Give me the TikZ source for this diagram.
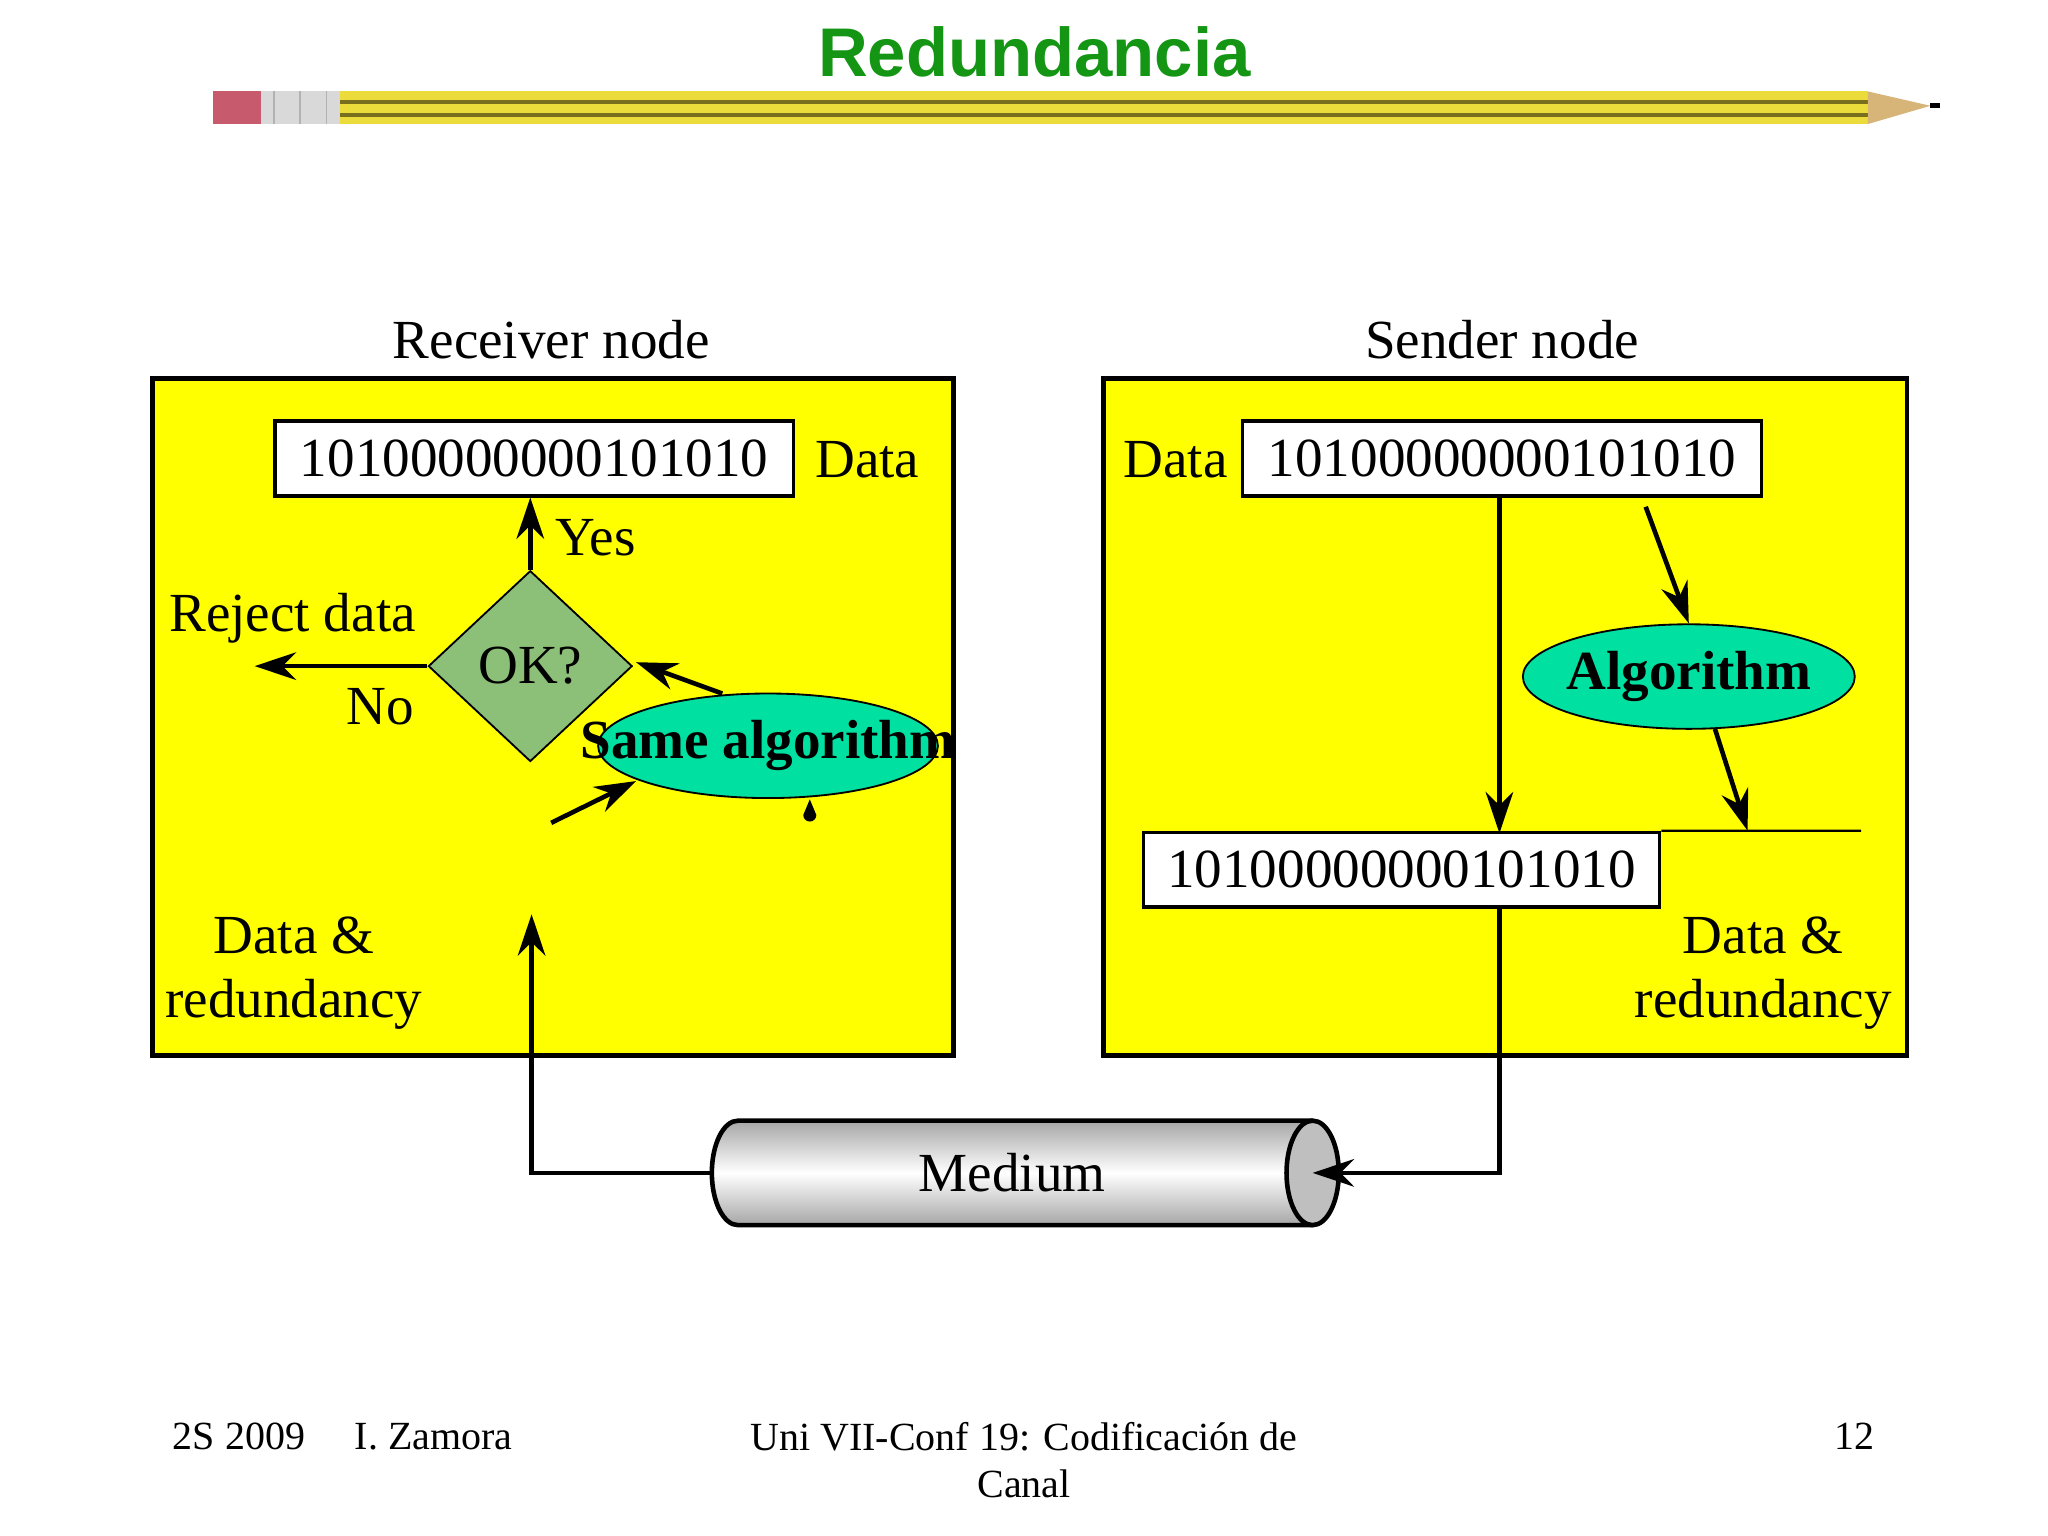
\documentclass[tikz,border=0pt]{standalone}
\usepackage{fontspec}
\setmainfont{Liberation Serif}
\newfontfamily\titlefont{Liberation Sans}
\usetikzlibrary{shapes.geometric,arrows.meta}
\definecolor{ttl}{RGB}{20,150,20}
\definecolor{eraser}{RGB}{200,90,110}
\definecolor{pbody}{RGB}{235,220,60}
\definecolor{pline}{RGB}{120,110,30}
\definecolor{ptip}{RGB}{215,180,120}
\definecolor{okg}{RGB}{140,192,120}
\definecolor{cyanel}{RGB}{0,224,160}
\definecolor{pyel}{RGB}{255,255,0}
\begin{document}
\begin{tikzpicture}[x=0.01cm,y=-0.01cm,
  txt/.style={font=\fontsize{12}{14}\selectfont},
  bits/.style={draw,fill=white,line width=0.8pt,minimum width=3.97cm,minimum height=0.57cm,inner sep=0pt,font=\fontsize{12}{14}\selectfont},
  panel/.style={draw,fill=pyel,line width=1pt},
  ell/.style={ellipse,draw,fill=cyanel,minimum width=2.6cm,minimum height=0.8cm,inner sep=0pt},
  btxt/.style={font=\bfseries\fontsize{12}{14}\selectfont},
  arr/.style={-{Stealth[length=9pt,width=6pt]},line width=1pt},
  foot/.style={font=\fontsize{8.7}{10.2}\selectfont}]
\useasboundingbox (0,0) rectangle (1568,1176);
\fill[white] (0,0) rectangle (1568,1176);
% title
\node[font=\titlefont\bfseries\fontsize{15}{18}\selectfont,text=ttl] (title) at (792,40) {Redundancia};
% pencil
\fill[eraser] (163,70) rectangle (200,95);
\fill[gray!30] (200,70) rectangle (260,95);
\draw[gray!60] (210,70)--(210,95) (230,70)--(230,95) (250,70)--(250,95);
\fill[pbody] (260,70) rectangle (1430,95);
\draw[pline,line width=1pt] (260,78)--(1430,78) (260,88)--(1430,88);
\fill[ptip] (1430,70)--(1478,81)--(1430,95)--cycle;
\fill[black] (1478,79) rectangle (1485,83);
% panels
\node[panel,minimum width=6.13cm,minimum height=5.18cm,anchor=north west] (lp) at (115,288) {};
\node[panel,minimum width=6.15cm,minimum height=5.18cm,anchor=north west] (rp) at (843,288) {};
\node[txt] (rtitle) at (422,260) {Receiver node};
\node[txt] (stitle) at (1150,260) {Sender node};
% left content
\node[bits] (ld) at (409,351) {10100000000101010};
\node[txt] (ldl) at (664,352) {Data};
\node[diamond,draw,fill=okg,minimum width=1.56cm,minimum height=1.46cm,inner sep=0pt,txt,aspect=1.07] (ok) at (406,510) {OK?};
\draw[arr] (ok.north) -- (ld.south -| ok.north);
\node[txt] (yes) at (456,412) {Yes};
\coordinate (rej) at (195,510);
\draw[arr] (ok.west) -- (rej);
\node[txt] (rejt) at (224,473) {Reject data};
\node[txt] (no) at (291,541) {No};
\node[ell] (same) at (588,571) {};
\node[btxt] (samet) at (588,571) {Same algorithm};
\coordinate (s1) at (553,531);
\draw[arr] (s1) -- (487,507);
\coordinate (s2) at (422,630);
\draw[arr] (s2) -- (487,598);
\fill (620,612) -- (615,624) arc(180:0:5) -- cycle;
\node[txt,align=center] (ldr) at (225,745) {Data \&\\redundancy};
% medium
\shade[top color=gray!70,bottom color=gray!70,middle color=white] (565,858) -- (1005,858) -- (1005,938) -- (565,938) arc(90:270:20 and 40) -- cycle;
\draw[line width=1pt] (565,858) -- (1005,858) (565,938) -- (1005,938) (565,938) arc(90:270:20 and 40);
\filldraw[fill=gray!50,line width=1pt] (1005,898) ellipse (20 and 40);
\node[txt,inner sep=0pt] (med) at (775,898) {Medium};
\coordinate (medL) at (545,898);
\coordinate (medR) at (1005,898);
\coordinate (lin) at (407,700);
\draw[arr] (medL) -- (407,898) -- (lin);
% right content
\node[bits] (rd) at (1150,351) {10100000000101010};
\node[txt] (rdl) at (900,352) {Data};
\node[bits,minimum width=3.95cm] (rb) at (1073,666) {10100000000101010};
\coordinate (d1) at (1148,380);
\coordinate (d2) at (1148,638);
\draw[arr] (d1) -- (d2);
\node[ell,minimum width=2.54cm] (alg) at (1293,518) {};
\node[btxt] (algt) at (1293,518) {Algorithm};
\coordinate (a1) at (1260,388);
\draw[arr] (a1) -- (alg.north);
\coordinate (a2) at (1338,636);
\draw[arr] (1313,558) -- (a2);
\draw[line width=0.5pt] (rb.north east) -- (1425,636);
\coordinate (d3) at (1148,694);
\draw[arr] (d3) -- (1148,898) -- (medR);
\node[txt,align=center] (rdr) at (1350,745) {Data \&\\redundancy};
% footer
\node[foot] (f1) at (183,1100) {2S 2009};
\node[foot] (f2) at (332,1100) {I. Zamora};
\node[foot,align=center] (f3) at (784,1118) {Uni VII-Conf 19: Codificación de\\Canal};
\node[foot] (f4) at (1420,1100) {12};
\end{tikzpicture}
\end{document}
